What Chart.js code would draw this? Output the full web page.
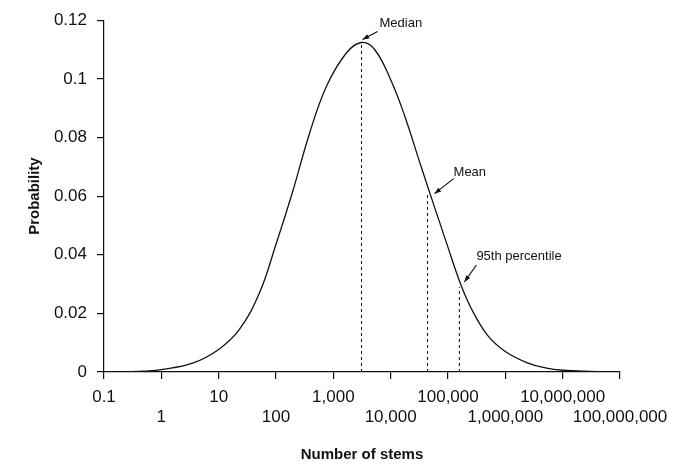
<head>
    <meta charset="utf-8">
    <title>Number of stems</title>
    <style>
      body { margin: 0; background: #fff; }
      .box { width: 679px; height: 465px; }
    </style>
</head>
<body>
    <div class="box">
        <canvas id="myChart" width="679" height="465"></canvas>
    </div>
    <script src="https://cdn.jsdelivr.net/npm/chart.js"></script>
    <script>
      // curve (x = number of stems, y = probability)
      const stems = [0.22, 0.5, 1, 3.5, 10, 23, 52, 100, 195, 390, 770, 1700, 3100, 5250, 10000, 17400, 34700, 100000, 166000, 257000, 490000, 1000000, 2500000, 5000000, 10000000, 30000000, 100000000];
      const prob = [0, 0.0003, 0.0008, 0.003, 0.0077, 0.0145, 0.0272, 0.0436, 0.0615, 0.0818, 0.0977, 0.1089, 0.1124, 0.110, 0.0997, 0.0876, 0.0695, 0.0425, 0.030, 0.0215, 0.0125, 0.007, 0.003, 0.0014, 0.0006, 0.0002, 0];

      // marked points
      const markerNames = ['Median', 'Mean', '95th percentile'];
      const markerX = [3100, 44000, 158000];
      const markerY = [0.1124, 0.0605, 0.029];

      const xTickValues = [0.1, 1, 10, 100, 1000, 10000, 100000, 1000000, 10000000, 100000000];
      const xTickLabels = ['0.1', '1', '10', '100', '1,000', '10,000', '100,000', '1,000,000', '10,000,000', '100,000,000'];
      const yTickLabels = ['0', '0.02', '0.04', '0.06', '0.08', '0.1', '0.12'];

      const fontFam = '"Liberation Sans", Arial, Helvetica, sans-serif';

      const datasets = [{
        data: stems.map((s, i) => ({x: s, y: prob[i]})),
        borderColor: '#111',
        borderWidth: 1.3,
        pointRadius: 0,
        tension: 0.4,
        fill: false
      }];
      markerX.forEach((mx, i) => {
        datasets.push({
          data: [{x: mx, y: 0}, {x: mx, y: markerY[i]}],
          borderColor: '#111',
          borderWidth: 1,
          borderDash: [3, 3],
          pointRadius: 0
        });
      });

      // text + arrow offsets (pixels) from each marked point
      const noteOffsets = [
        {tx: 18, ty: -19, ax: 16, ay: -11, hx: 1, hy: -3},
        {tx: 26, ty: -22, ax: 26, ay: -16, hx: 7, hy: -1},
        {tx: 17, ty: -31, ax: 17, ay: -22, hx: 5, hy: -5}
      ];

      const notes = {
        id: 'notes',
        afterDatasetsDraw(chart) {
          const ctx = chart.ctx;
          const xs = chart.scales.x, ys = chart.scales.y;
          ctx.save();
          ctx.fillStyle = '#111';
          ctx.strokeStyle = '#111';
          ctx.lineWidth = 1.2;
          ctx.font = '13px ' + fontFam;
          ctx.textBaseline = 'middle';
          markerNames.forEach((name, i) => {
            const px = xs.getPixelForValue(markerX[i]);
            const py = ys.getPixelForValue(markerY[i]);
            const o = noteOffsets[i];
            ctx.fillText(name, px + o.tx, py + o.ty);
            const x1 = px + o.ax, y1 = py + o.ay, x2 = px + o.hx, y2 = py + o.hy;
            ctx.beginPath();
            ctx.moveTo(x1, y1);
            ctx.lineTo(x2, y2);
            ctx.stroke();
            const ang = Math.atan2(y2 - y1, x2 - x1);
            ctx.beginPath();
            ctx.moveTo(x2, y2);
            ctx.lineTo(x2 - 7 * Math.cos(ang - 0.35), y2 - 7 * Math.sin(ang - 0.35));
            ctx.lineTo(x2 - 7 * Math.cos(ang + 0.35), y2 - 7 * Math.sin(ang + 0.35));
            ctx.closePath();
            ctx.fill();
          });
          ctx.restore();
        }
      };

      new Chart(document.getElementById('myChart'), {
        type: 'line',
        data: {datasets: datasets},
        options: {
          responsive: false,
          animation: false,
          layout: {padding: {top: 17, right: 59, bottom: 0, left: 0}},
          plugins: {legend: {display: false}, tooltip: {enabled: false}},
          scales: {
            x: {
              type: 'logarithmic',
              min: 0.1,
              max: 100000000,
              afterBuildTicks: s => { s.ticks = xTickValues.map(v => ({value: v})); },
              afterFit: s => { s.height = 93; },
              grid: {drawOnChartArea: false, drawTicks: true, tickLength: 7, color: '#111', lineWidth: 1.2},
              border: {display: true, color: '#111', width: 1.2},
              ticks: {
                color: '#111',
                padding: 9,
                maxRotation: 0,
                autoSkip: false,
                font: {family: fontFam, size: 17, lineHeight: 1.15},
                callback: (v, i) => i % 2 === 0 ? xTickLabels[i] : ['', xTickLabels[i]]
              },
              title: {
                display: true,
                text: 'Number of stems',
                color: '#111',
                font: {family: fontFam, size: 15, weight: 'bold'},
                padding: {top: 0, bottom: 1}
              }
            },
            y: {
              min: 0,
              max: 0.12,
              afterFit: s => { s.width = 104; },
              grid: {drawOnChartArea: false, drawTicks: true, tickLength: 7, color: '#111', lineWidth: 1.2},
              border: {display: true, color: '#111', width: 1.2},
              ticks: {
                stepSize: 0.02,
                color: '#111',
                padding: 10,
                font: {family: fontFam, size: 17},
                callback: (v, i) => yTickLabels[i]
              },
              title: {
                display: true,
                text: 'Probability',
                color: '#111',
                font: {family: fontFam, size: 15, weight: 'bold'},
                padding: {top: 26, bottom: 0}
              }
            }
          }
        },
        plugins: [notes]
      });
    </script>
</body>
